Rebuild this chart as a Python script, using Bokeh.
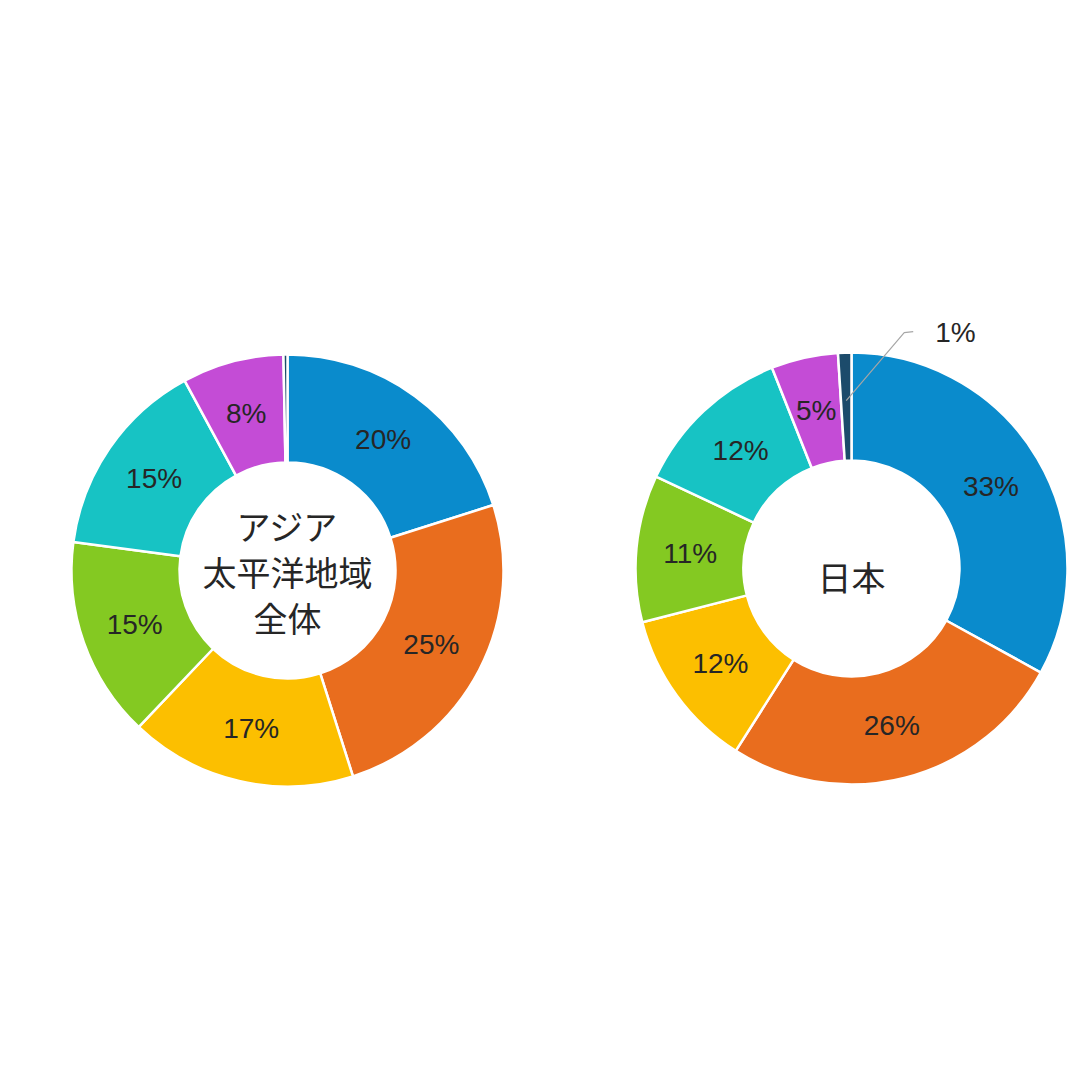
import math
from bokeh.plotting import figure
from bokeh.models import ColumnDataSource, Range1d
from bokeh.core.properties import value
from bokeh.embed import file_html
from bokeh.resources import INLINE

# ---- data ----
colors = ["#0a8bcc", "#e96d1e", "#fcbf00", "#84c922", "#17c3c4", "#c44cd6", "#1c4b6b"]
left_title = ["アジア", "太平洋地域", "全体"]
left_values = [20.1, 25.0, 17.0, 15.0, 15.0, 7.6, 0.3]
left_labels = ["20%", "25%", "17%", "15%", "15%", "8%", ""]
right_title = ["日本"]
right_values = [33, 26, 12, 11, 12, 5, 1]
right_labels = ["33%", "26%", "12%", "11%", "12%", "5%", ""]
right_outside_label = "1%"

W = H = 1072
p = figure(width=W, height=H, output_backend="svg", toolbar_location=None,
           x_range=Range1d(0, 1072), y_range=Range1d(8, 1080),
           min_border=0, outline_line_color=None)
p.axis.visible = False
p.grid.visible = False
p.background_fill_color = "white"
p.border_fill_color = "white"

R_OUT, R_IN = 216, 108
R_LAB = (R_OUT + R_IN) / 2
LABEL_FONT = value("Liberation Sans")
CJK_FONT = value("Noto Sans CJK JP")


def sy(screen_y):
    return 1080 - screen_y


def donut(cx, cy, vals, labels, title_lines, title_y0, line_gap):
    total = float(sum(vals))
    cum = [0.0]
    for v in vals:
        cum.append(cum[-1] + v)
    starts = [math.pi / 2 - 2 * math.pi * c / total for c in cum[:-1]]
    ends = [math.pi / 2 - 2 * math.pi * c / total for c in cum[1:]]
    mids = [(a + b) / 2 for a, b in zip(starts, ends)]
    src = ColumnDataSource(dict(
        x=[cx] * len(vals), y=[cy] * len(vals),
        start=starts, end=ends, color=colors[:len(vals)],
        lx=[cx + R_LAB * math.cos(m) for m in mids],
        ly=[cy + R_LAB * math.sin(m) for m in mids],
        lab=labels,
    ))
    p.annular_wedge(x="x", y="y", inner_radius=R_IN, outer_radius=R_OUT,
                    start_angle="start", end_angle="end", direction="clock",
                    fill_color="color", line_color="white", line_width=2.5,
                    source=src)
    p.text(x="lx", y="ly", text="lab", source=src, text_font=LABEL_FONT,
           text_font_size="28px", text_color="#262626",
           text_align="center", text_baseline="middle")
    for i, t in enumerate(title_lines):
        p.text(x=[cx], y=[sy(title_y0 + i * line_gap)], text=[t],
               text_font=CJK_FONT, text_font_size="34px", text_color="#262626",
               text_align="center", text_baseline="middle")
    return mids


lcx, lcy = 287, sy(570)
rcx, rcy = 851, sy(568)
donut(lcx, lcy, left_values, left_labels, left_title, 525, 46)
rmids = donut(rcx, rcy, right_values, right_labels, right_title, 576, 46)

# leader line for the small slice
m = rmids[-1]
x0 = rcx + 168 * math.cos(m)
y0 = rcy + 168 * math.sin(m)
x1, y1 = x0 + 58, y0 + 68
x2, y2 = x1 + 9, y1 + 1
p.line(x=[x0, x1, x2], y=[y0, y1, y2], line_color="#a6a6a6", line_width=1.2)
p.text(x=[x2 + 22], y=[y2 - 1], text=[right_outside_label], text_font=LABEL_FONT,
       text_font_size="28px", text_color="#262626",
       text_align="left", text_baseline="middle")

open("out.html", "w").write(file_html(p, INLINE))
